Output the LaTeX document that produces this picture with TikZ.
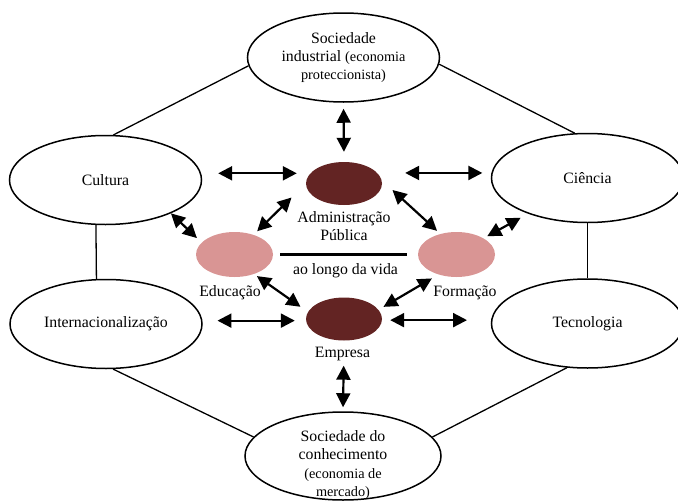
\documentclass[tikz,border=0pt]{standalone}
\usepackage{fontspec}
\setmainfont{Liberation Serif}
\usetikzlibrary{shapes.geometric,arrows.meta,positioning}
\newcommand{\smalltxt}{\fontsize{14.3}{18.3}\selectfont}
\definecolor{darkred}{HTML}{632423}
\definecolor{rosy}{HTML}{D99594}

\begin{document}
\begin{tikzpicture}[x=1pt,y=-1pt,
    big/.style={shape=ellipse,draw=black,line width=1.5pt,inner sep=0pt,minimum width=192pt,minimum height=89pt,align=center,font=\fontsize{15.8}{18.3}\selectfont},
    dark/.style={shape=ellipse,fill=darkred,minimum width=76pt,minimum height=43pt,inner sep=0pt},
    pink/.style={shape=ellipse,fill=rosy,minimum width=77pt,minimum height=45pt,inner sep=0pt},
    lbl/.style={align=center,inner sep=0pt,font=\fontsize{15.8}{18.3}\selectfont},
    link/.style={line width=1.3pt},
    twoway/.style={{Triangle[length=14pt,width=14pt]}-{Triangle[length=14pt,width=14pt]},line width=2.2pt}]
    \useasboundingbox (0,0) rectangle (678,501);

    % outer ring
    \node[big] (soc1) at (343.5,57.5) {Sociedade\\industrial {\smalltxt(economia}\\{\smalltxt proteccionista)}};
    \node[big] (cult) at (105.5,180) {Cultura};
    \node[big] (cien) at (587.5,178) {Ciência};
    \node[big] (intl) at (106,324) {Internacionalização};
    \node[big] (tec) at (587.5,323.5) {Tecnologia};
    \node[big,minimum width=196pt,minimum height=88pt] (soc2) at (343,456) {};
    \node[lbl] (soc2txt) at ([yshift=-9pt]soc2.center) {Sociedade do\\conhecimento\\{\smalltxt(economia de}\\{\smalltxt mercado)}};

    % inner ellipses
    \node[dark] (adm) at (344,183.5) {};
    \node[dark] (emp) at (344,319) {};
    \node[pink] (edu) at (234.5,254.5) {};
    \node[pink] (form) at (456.5,254.5) {};

    \node[lbl,below=6pt of adm] (admlbl) {Administração\\Pública};
    \node[lbl,below=6pt of emp,xshift=-1.5pt] (emplbl) {Empresa};
    \node[lbl,below=8pt of edu,xshift=-4.5pt] (edulbl) {Educação};
    \node[lbl,below=8pt of form,xshift=8.5pt] (formlbl) {Formação};

    \draw[line width=3.5pt,shorten <=7pt,shorten >=11pt] (edu.east) -- (form.west)
        node[lbl,midway,anchor=north,yshift=-7.5pt] (vida) {ao longo da vida};

    % ring lines
    \draw[link] (soc1.185) -- (cult.80);
    \draw[link] (soc1.-4) -- (cien.106);
    \draw[link] (cult.-102) -- (intl.102);
    \draw[link] (cien.south) -- (tec.north);
    \draw[link] (intl.-81) -- (soc2.168);
    \draw[link] (tec.-115) -- (soc2.12);

    % arrows
    \draw[twoway,shorten <=6pt,shorten >=10pt] (soc1.south) -- (adm.north);
    \draw[twoway,shorten <=25pt,shorten >=4pt] (emp.south) -- (soc2.north);
    \draw[twoway,shorten <=17pt,shorten >=9pt] (cult.4) -- (cult.4 -| adm.west);
    \draw[twoway,shorten <=23pt,shorten >=9pt] (cien.177 -| adm.east) -- (cien.177);
    \draw[twoway,shorten <=15pt,shorten >=11pt] (intl.2.5) -- (intl.2.5 -| emp.west);
    \draw[twoway,shorten <=8pt,shorten >=24pt] (tec.178 -| emp.east) -- (tec.178);
    \draw[twoway,shorten >=6.5pt] (cult.-27) -- (edu.160);
    \draw[twoway,shorten <=20pt,shorten >=5pt] (adm.west) -- (edu.46);
    \draw[twoway,shorten <=14.5pt,shorten >=4.5pt] (adm.5) -- (form.128);
    \draw[twoway,shorten <=8.5pt,shorten >=4.3pt] (cien.211) -- (form.31);
    \draw[twoway,shorten <=3.5pt,shorten >=9pt] (edu.-45) -- (emp.169);
    \draw[twoway,shorten <=7.6pt,shorten >=5.7pt] (form.228) -- (emp.15);

\end{tikzpicture}
\end{document}
